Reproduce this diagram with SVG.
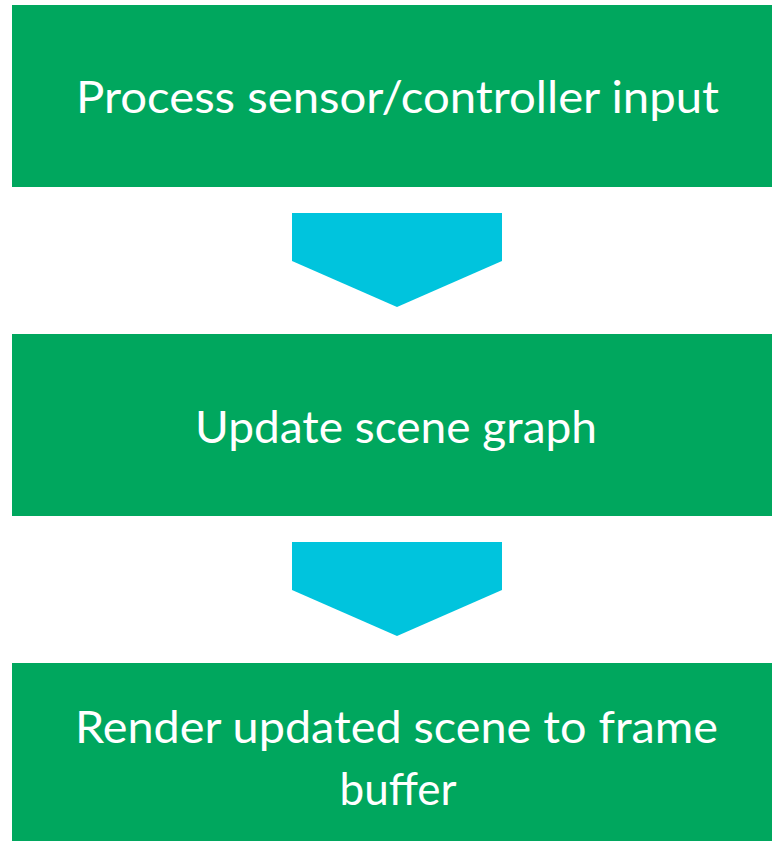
<svg xmlns="http://www.w3.org/2000/svg" width="772" height="841" viewBox="0 0 772 841">
<style>
.box{fill:#00A75E}
.arr{fill:#00C4DD}
.t{font-family:Lato,"Open Sans","Liberation Sans",sans-serif;font-size:44px;fill:#FFFFFF;text-anchor:middle}
</style>
<rect width="772" height="841" fill="#FFFFFF"/>
<g id="node1">
<rect class="box" x="12" y="5" width="760" height="182"/>
<text class="t" x="397.5" y="113" textLength="643" lengthAdjust="spacingAndGlyphs">Process sensor/controller input</text>
</g>
<g id="node2">
<rect class="box" x="12" y="334" width="760" height="182"/>
<text class="t" x="396" y="443" textLength="402" lengthAdjust="spacingAndGlyphs">Update scene graph</text>
</g>
<g id="node3">
<rect class="box" x="12" y="663" width="760" height="182"/>
<text class="t" x="396.5" y="743" textLength="643" lengthAdjust="spacingAndGlyphs">Render updated scene to frame</text>
<text class="t" x="398" y="805" textLength="117" lengthAdjust="spacingAndGlyphs">buffer</text>
</g>
<g id="connectors">
<polygon class="arr" points="292,213 502,213 502,261 397,307 292,261"/>
<polygon class="arr" points="292,542 502,542 502,590 397,636 292,590"/>
</g>
</svg>
